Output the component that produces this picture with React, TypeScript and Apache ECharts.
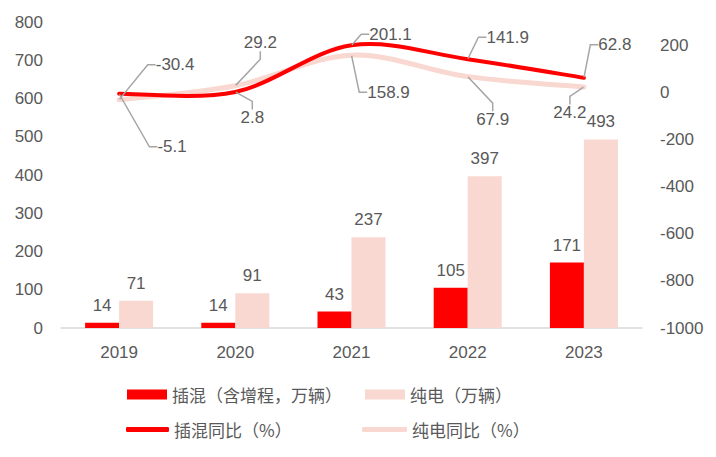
import React, { useEffect, useRef } from "react";
import * as echarts from "echarts";

const categories = ["2019", "2020", "2021", "2022", "2023"];
const phevSales = [14, 14, 43, 105, 171];
const bevSales = [71, 91, 237, 397, 493];
const phevYoY = [-5.1, 2.8, 201.1, 141.9, 62.8];
const bevYoY = [-30.4, 29.2, 158.9, 67.9, 24.2];
const leftTicks = { min: 0, max: 800, interval: 100 };
const rightTicks = { min: -1000, max: 300, interval: 200 };

// label offsets (relative to the point) for the YoY data labels
const phevLabelOffset = [
  [53, 53],
  [17, 26],
  [39, -11],
  [40, -22],
  [31, -33],
];
const bevLabelOffset = [
  [56, -35],
  [25, -43],
  [37, 37],
  [25, 43],
  [-14, 26],
];

const RED = "#FF0000";
const PINK = "#F8D8D0";
const TEXT = "#595959";
const FONT = "'Liberation Sans', 'Noto Sans CJK SC', sans-serif";
const CJK = "'Noto Sans CJK SC', 'Liberation Sans', sans-serif";
const FS = 17;

// Catmull-Rom style smoothing (like a spreadsheet's smoothed line)
function smoothPath(pts: number[][]): string {
  if (!pts.length) return "";
  let d = `M${pts[0][0]},${pts[0][1]}`;
  for (let i = 0; i < pts.length - 1; i++) {
    const p0 = pts[i - 1] || pts[i];
    const p1 = pts[i];
    const p2 = pts[i + 1];
    const p3 = pts[i + 2] || pts[i + 1];
    const c1x = p1[0] + (p2[0] - p0[0]) / 6;
    const c1y = p1[1] + (p2[1] - p0[1]) / 6;
    const c2x = p2[0] - (p3[0] - p1[0]) / 6;
    const c2y = p2[1] - (p3[1] - p1[1]) / 6;
    d += ` C${c1x},${c1y} ${c2x},${c2y} ${p2[0]},${p2[1]}`;
  }
  return d;
}

export default function App() {
  const ref = useRef<HTMLDivElement>(null);
  useEffect(() => {
    if (!ref.current) return;
    const chart = echarts.init(ref.current, undefined, { renderer: "svg" });
    const lineLabel = () => ({
      show: true,
      position: "inside",
      color: TEXT,
      fontSize: FS,
      fontFamily: FONT,
      padding: [0, 3],
      formatter: (p: any) => p.value.toFixed(1),
    });
    const layout = (offsets: number[][]) => (p: any) => ({
      dx: offsets[p.dataIndex][0],
      dy: offsets[p.dataIndex][1],
    });
    const curveSeries = (name: string, values: number[], color: string, width: number, z: number) => ({
      name,
      type: "custom",
      yAxisIndex: 1,
      data: values.map((v, i) => [i, v]),
      encode: { x: 0, y: 1 },
      itemStyle: { color },
      z,
      renderItem: (params: any, api: any) => {
        if (params.dataIndex !== 0) return null;
        const pts = values.map((v, i) => api.coord([i, v]));
        return {
          type: "path",
          shape: { pathData: smoothPath(pts) },
          style: { fill: "none", stroke: color, lineWidth: width, lineCap: "round", lineJoin: "round" },
        };
      },
    });
    const labelSeries = (name: string, values: number[], color: string, offsets: number[][]) => ({
      name,
      type: "line",
      yAxisIndex: 1,
      data: values,
      symbol: "circle",
      symbolSize: 1,
      showSymbol: true,
      itemStyle: { color },
      lineStyle: { opacity: 0 },
      label: lineLabel(),
      labelLayout: layout(offsets),
      labelLine: { show: true, length2: 8, lineStyle: { color: "#A6A6A6", width: 1.5 } },
      z: 6,
    });
    const legendBase = {
      orient: "horizontal",
      padding: 0,
      textStyle: { color: TEXT, fontSize: 17, fontFamily: CJK },
      itemGap: 0,
    };
    const barLabel = { show: true, position: "top", distance: 9, color: TEXT, fontSize: FS, fontFamily: FONT };
    chart.setOption({
      animation: false,
      grid: { left: 61, right: 74, top: 22, bottom: 129 },
      legend: [
        { ...legendBase, left: 127, top: 386, itemWidth: 40, itemHeight: 10, data: [{ name: "插混（含增程，万辆）", icon: "rect" }] },
        { ...legendBase, left: 365, top: 386, itemWidth: 40, itemHeight: 10, data: [{ name: "纯电（万辆）", icon: "rect" }] },
        { ...legendBase, left: 126, top: 421, itemWidth: 43, itemHeight: 5, data: [{ name: "插混同比（%）", icon: "roundRect" }] },
        { ...legendBase, left: 362, top: 421, itemWidth: 45, itemHeight: 5, data: [{ name: "纯电同比（%）", icon: "roundRect" }] },
      ],
      xAxis: {
        type: "category",
        data: categories,
        axisLine: { lineStyle: { color: "#D9D9D9", width: 1.5 } },
        axisTick: { show: false },
        axisLabel: { color: TEXT, fontSize: FS, fontFamily: FONT, margin: 16 },
      },
      yAxis: [
        {
          type: "value",
          ...leftTicks,
          axisLine: { show: false },
          axisTick: { show: false },
          splitLine: { show: false },
          axisLabel: { color: TEXT, fontSize: FS, fontFamily: FONT, margin: 18 },
        },
        {
          type: "value",
          ...rightTicks,
          position: "right",
          axisLine: { show: false },
          axisTick: { show: false },
          splitLine: { show: false },
          axisLabel: {
            color: TEXT,
            fontSize: FS,
            fontFamily: FONT,
            margin: 18,
            showMaxLabel: false,
            formatter: (v: number) => String(v),
          },
        },
      ],
      series: [
        {
          name: "插混（含增程，万辆）",
          type: "bar",
          data: phevSales,
          barWidth: 34,
          barGap: "0%",
          itemStyle: { color: RED },
          label: barLabel,
        },
        {
          name: "纯电（万辆）",
          type: "bar",
          data: bevSales,
          barWidth: 34,
          barGap: "0%",
          itemStyle: { color: PINK },
          label: barLabel,
        },
        curveSeries("纯电同比（%）", bevYoY, PINK, 5, 3),
        curveSeries("插混同比（%）", phevYoY, RED, 4, 4),
        labelSeries("纯电同比标签", bevYoY, PINK, bevLabelOffset),
        labelSeries("插混同比标签", phevYoY, RED, phevLabelOffset),
      ],
    });
    return () => chart.dispose();
  }, []);
  return (
    <div
      ref={ref}
      style={{ position: "fixed", left: 0, top: 0, width: 716, height: 457, background: "#fff" }}
    />
  );
}
